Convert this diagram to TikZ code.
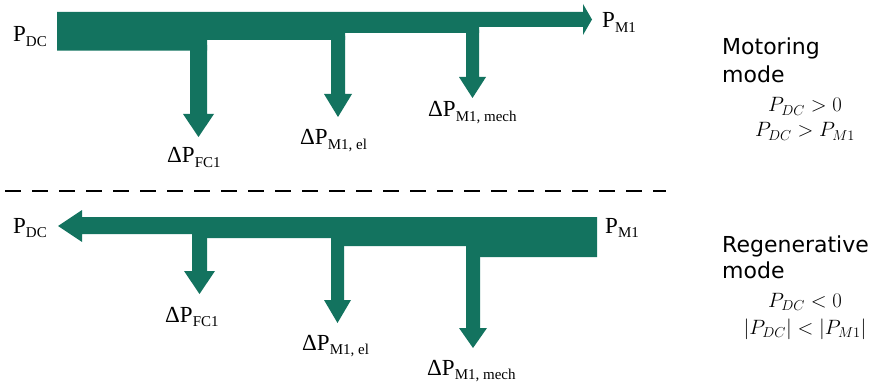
\documentclass[tikz,border=0pt]{standalone}
\usepackage{fontspec}
\setmainfont{Liberation Serif}
\newfontfamily\modefont{DejaVu Sans}
\definecolor{flowgreen}{HTML}{13735F}
% lowered subscript in the label font
\newcommand\lowsub[1]{\raisebox{-0.2em}{\fontsize{15}{15}\selectfont #1}}
% downward branch arrow: shaft left, shaft right, top, head top, tip, head overhang
\newcommand\flowdown[6]{%
  \fill[flow] (#1,#3) -- (#2,#3) -- (#2,#4) -- ({#2+#6},#4) -- ({(#1+#2)/2},#5)
    -- ({#1-#6},#4) -- (#1,#4) -- cycle;}
\begin{document}
\begin{tikzpicture}[x=1pt,y=-1pt,
  flow/.style={fill=flowgreen},
  lbl/.style={anchor=base west,inner sep=0pt,font=\fontsize{23}{27}\selectfont},
  modetxt/.style={anchor=base west,inner sep=0pt,font=\modefont\fontsize{22}{26}\selectfont},
  cond/.style={anchor=base,inner sep=0pt,font=\fontsize{21.5}{25}\selectfont},
  sep/.style={line width=1.6pt,dash pattern=on 16pt off 11pt}]
\useasboundingbox (0,0) rectangle (880,382);

% ---------- motoring mode ----------
\fill[flow] (57,12) -- (583,12) -- (583,4) -- (592,19.5) -- (583,35) -- (583,27)
  -- (479,27) -- (479,33) -- (345,33) -- (345,40) -- (207,40) -- (207,50.7)
  -- (57,50.7) -- cycle;
\flowdown{190}{207}{45}{114}{137}{7}
\flowdown{331}{345}{36}{94}{117}{7}
\flowdown{466}{479}{30}{77}{98}{7}

\node[lbl] (mdc) at (13,42) {P\lowsub{DC}};
\node[lbl] (mm1) at (602,28) {P\lowsub{M1}};
\node[lbl] (mfc) at (167,163) {ΔP\lowsub{FC1}};
\node[lbl] (mel) at (300,145) {ΔP\lowsub{M1, el}};
\node[lbl] (mme) at (428,117) {ΔP\lowsub{M1, mech}};

\node[modetxt] (mt1) at (722,55) {Motoring};
\node[modetxt] (mt2) at (722,83) {mode};
\node[cond] (mc1) at (805,112) {$P_{DC} > 0$};
\node[cond] (mc2) at (805,137) {$P_{DC} > P_{M1}$};

% ---------- separator ----------
\coordinate (sepL) at (5,191);
\coordinate (sepR) at (666,191);
\draw[sep] (sepL) -- (sepR);

% ---------- regenerative mode ----------
\fill[flow] (58,226) -- (82,210) -- (82,217) -- (597,217) -- (597,257)
  -- (480,257) -- (480,246) -- (344,246) -- (344,238) -- (207,238)
  -- (207,234) -- (82,234) -- (82,242) -- cycle;
\flowdown{192}{207}{230}{271}{294}{8}
\flowdown{331}{344}{236}{300}{323}{7}
\flowdown{466}{480}{240}{328}{348}{7}

\node[lbl] (rdc) at (13,233) {P\lowsub{DC}};
\node[lbl] (rm1) at (605,233) {P\lowsub{M1}};
\node[lbl] (rfc) at (165,322) {ΔP\lowsub{FC1}};
\node[lbl] (rel) at (302,350) {ΔP\lowsub{M1, el}};
\node[lbl] (rme) at (427,375) {ΔP\lowsub{M1, mech}};

\node[modetxt] (rt1) at (722,252) {Regenerative};
\node[modetxt] (rt2) at (722,278) {mode};
\node[cond] (rc1) at (805,307) {$P_{DC} < 0$};
\node[cond] (rc2) at (805,334) {$|P_{DC}| < |P_{M1}|$};
\end{tikzpicture}
\end{document}
